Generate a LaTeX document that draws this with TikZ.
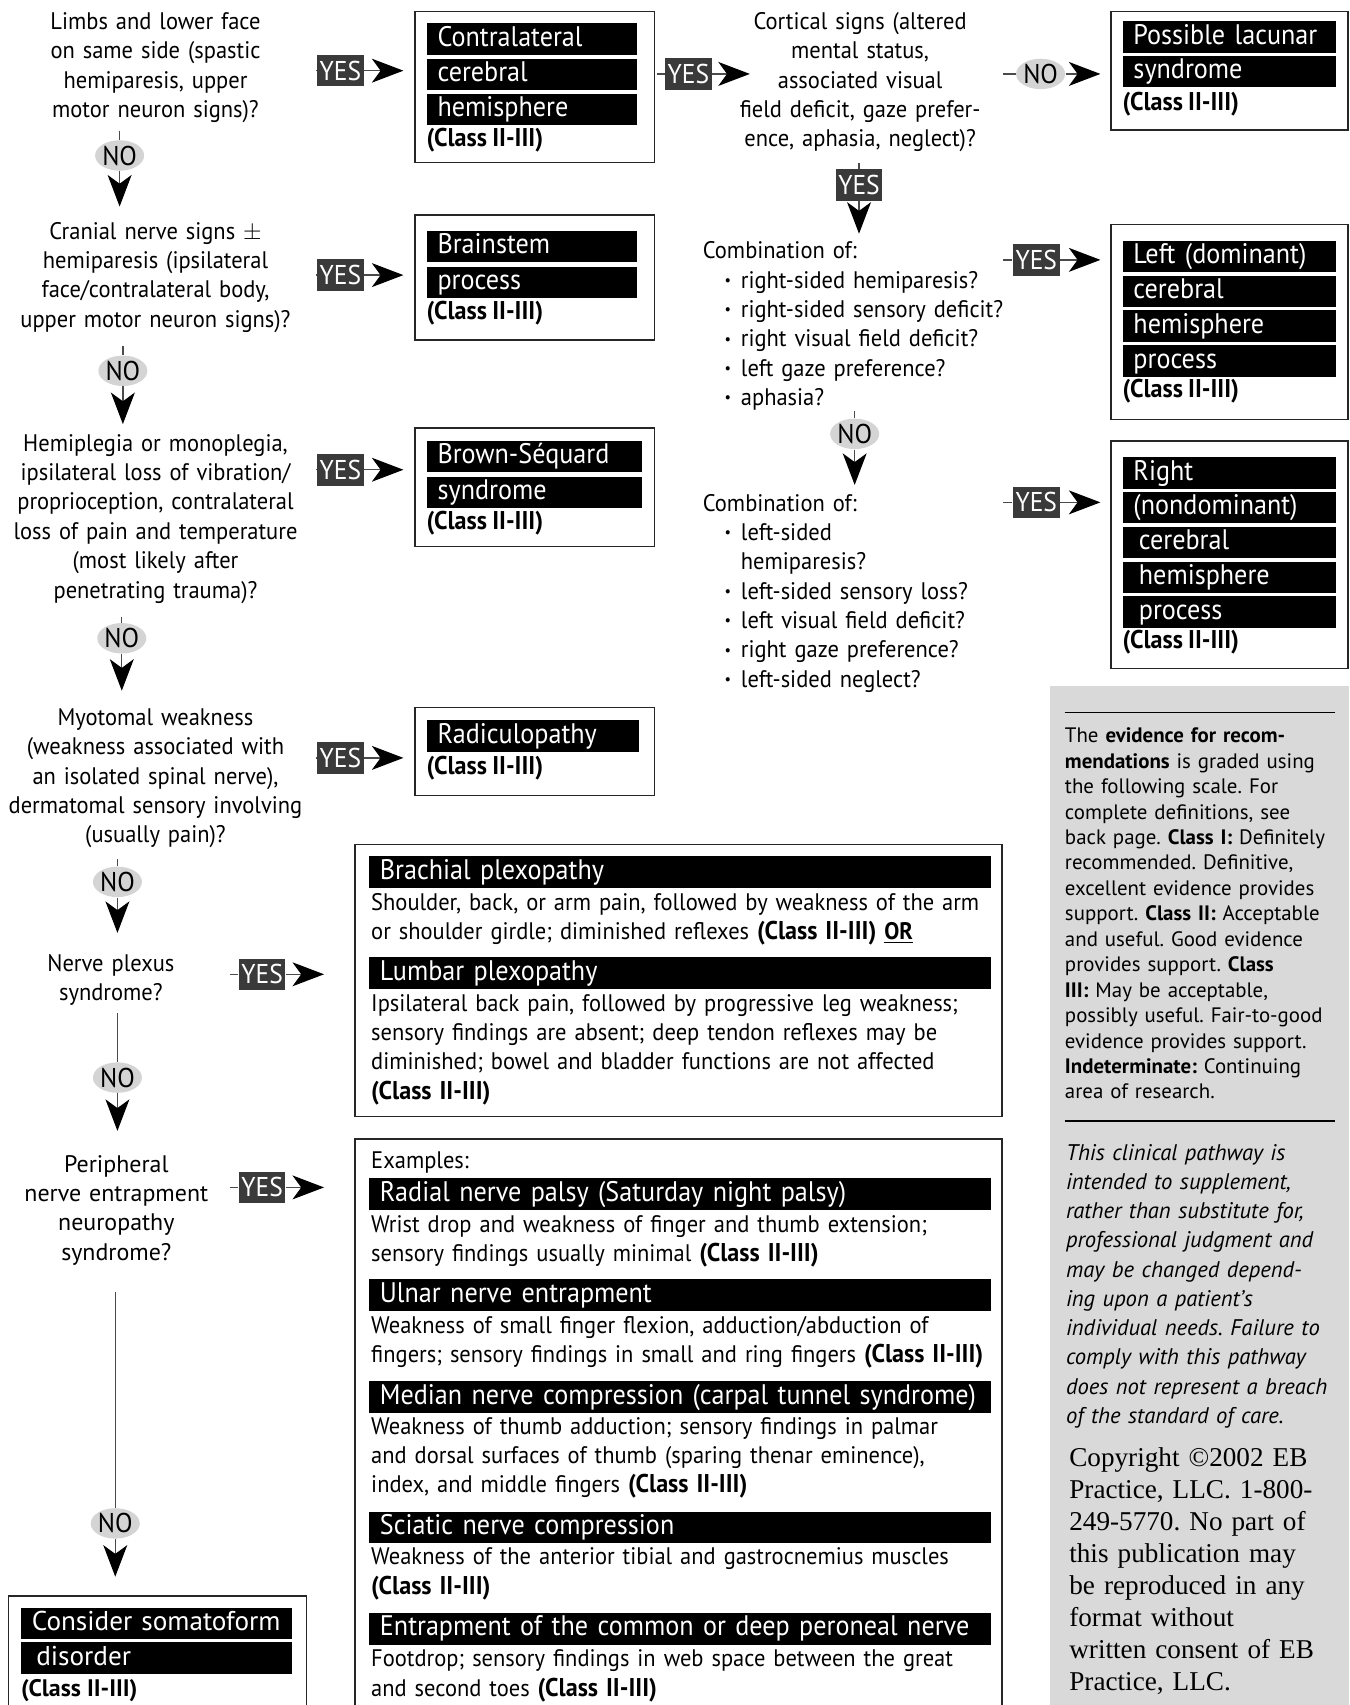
\documentclass[tikz,border=0pt]{standalone}
\usepackage{fontspec}
\setmainfont{PT Sans}
\newfontfamily\condfont[FakeStretch=0.94, WordSpace=0.85]{PT Sans}
\newfontfamily\barfont[FakeStretch=0.925, WordSpace=0.7]{PT Sans}
\newfontfamily\copyfont{Liberation Serif}
\usetikzlibrary{arrows.meta, shapes.geometric, positioning}
\frenchspacing

\definecolor{yesgray}{HTML}{3A3A3A}
\definecolor{nogray}{HTML}{D4D4D4}
\definecolor{panelgray}{HTML}{D9D9D9}
\definecolor{wiregray}{HTML}{4A4A4A}

\newcommand{\cls}{{\bfseries\fontsize{11.8}{13.5}\selectfont (Class II-III)}}
\newcommand{\itm}[1]{\hspace*{10pt}\makebox[7.5pt][l]{\raisebox{1.2pt}{\fontsize{7}{7}\selectfont\textbullet}}\mbox{#1}}

\tikzset{
	questionnode/.style={
			anchor=base,
			align=center,
			inner sep=0pt,
			font=\condfont\fontsize{11}{13.5}\selectfont
		},
	listnode/.style={
			anchor=base west,
			align=left,
			inner sep=0pt,
			text width=138pt,
			font=\condfont\fontsize{11}{13.5}\selectfont
		},
	framenode/.style={
			draw=black!85,
			line width=0.6pt,
			anchor=north west,
			inner sep=0pt
		},
	barnode/.style={
			fill=black,
			text=white,
			anchor=north west,
			inner sep=0pt,
			inner xsep=5pt,
			text width=#1,
			minimum height=14.5pt,
			text height=9.2pt,
			text depth=2.6pt,
			align=left,
			font=\barfont\fontsize{13}{14}\selectfont
		},
	barnode/.default=86.5pt,
	classnode/.style={
			anchor=base west,
			inner sep=0pt,
			font=\condfont
		},
	descnode/.style={
			anchor=base west,
			align=left,
			inner sep=0pt,
			text width=320pt,
			font=\condfont\fontsize{11}{13.5}\selectfont
		},
	yesnode/.style={
			fill=yesgray,
			text=white,
			minimum width=21.5pt,
			minimum height=14.5pt,
			inner sep=0pt,
			font=\condfont\fontsize{12.5}{12}\selectfont
		},
	nonode/.style={
			ellipse,
			fill=nogray,
			minimum width=22pt,
			minimum height=14pt,
			inner sep=0pt,
			font=\condfont\fontsize{12.5}{12}\selectfont
		},
	flowline/.style={
			draw=wiregray,
			line width=0.6pt
		},
	hflow/.style={
			flowline,
			-{Stealth[black, length=14.5pt, width=11pt, inset=4pt]}
		},
	vflow/.style={
			flowline,
			-{Stealth[black, length=14.5pt, width=11pt, inset=4pt]}
		}
}

\begin{document}
\begin{tikzpicture}[x=0.5pt, y=-0.5pt]
\useasboundingbox (0,0) rectangle (1241,1568);

\fill[panelgray] (966,631) rectangle (1241,1568);
\draw[line width=0.6pt] (979,655) -- (1228,655);
\draw[line width=0.6pt] (979,1031) -- (1228,1031);

\node[questionnode, text width=140pt] (qA) at (143,27) {Limbs and lower face\\on same side (spastic\\hemiparesis, upper\\motor neuron signs)?};
\node[questionnode, text width=140pt] (qB) at (143,220) {Cranial nerve signs $\pm$\\hemiparesis (ipsilateral\\face/contralateral body,\\upper motor neuron signs)?};
\node[questionnode, text width=140pt] (qC) at (143,415) {Hemiplegia or monoplegia,\\ipsilateral loss of vibration/\\proprioception, contralateral\\loss of pain and temperature\\(most likely after\\penetrating trauma)?};
\node[questionnode, text width=140pt] (qD) at (143,667) {Myotomal weakness\\(weakness associated with\\an isolated spinal nerve),\\dermatomal sensory involving\\(usually pain)?};
\node[questionnode, text width=103pt] (qE) at (102,893) {Nerve plexus\\syndrome?};
\node[questionnode, text width=98pt, font=\fontsize{11}{13.5}\selectfont] (qF) at (107,1078) {Peripheral\\nerve entrapment\\neuropathy\\syndrome?};
\node[questionnode, text width=131pt] (qG) at (791,27) {Cortical signs (altered\\mental status,\\associated visual\\field deficit, gaze prefer-\\ence, aphasia, neglect)?};
\node[listnode] (qH) at (646,238) {Combination of:\\
\itm{right-sided hemiparesis?}\\
\itm{right-sided sensory deficit?}\\
\itm{right visual field deficit?}\\
\itm{left gaze preference?}\\
\itm{aphasia?}};
\node[listnode] (qI) at (646,470) {Combination of:\\
\itm{left-sided}\\
\hspace*{17.5pt}hemiparesis?\\
\itm{left-sided sensory loss?}\\
\itm{left visual field deficit?}\\
\itm{right gaze preference?}\\
\itm{left-sided neglect?}};

\node[framenode, minimum width=110pt, minimum height=69.5pt] (rA) at (381,10) {};
\node[barnode] at (392,21) {Contralateral};
\node[barnode] at (392,53.5) {cerebral};
\node[barnode] at (392,86) {hemisphere};
\node[classnode] at (392,135) {\cls};

\node[framenode, minimum width=110pt, minimum height=57.5pt] (rB) at (381,197) {};
\node[barnode] at (392,212) {Brainstem};
\node[barnode] at (392,245) {process};
\node[classnode] at (392,294) {\cls};

\node[framenode, minimum width=110pt, minimum height=54.5pt] (rC) at (381,393) {};
\node[barnode=89pt] at (392,405) {Brown-Séquard};
\node[barnode=89pt] at (392,438) {syndrome};
\node[classnode] at (392,487) {\cls};

\node[framenode, minimum width=110pt, minimum height=40.5pt] (rD) at (381,650) {};
\node[barnode=87.5pt] at (392,662) {Radiculopathy};
\node[classnode] at (392,712) {\cls};

\node[framenode, minimum width=109pt, minimum height=54.5pt] (rH) at (1021,10) {};
\node[barnode=88pt] at (1032,19) {Possible lacunar};
\node[barnode=88pt] at (1032,51) {syndrome};
\node[classnode] at (1032,102) {\cls};

\node[framenode, minimum width=109pt, minimum height=89.5pt] (rI) at (1021,206) {};
\node[barnode=88pt] at (1032,221) {Left (dominant)};
\node[barnode=88pt] at (1032,253) {cerebral};
\node[barnode=88pt] at (1032,285) {hemisphere};
\node[barnode=88pt] at (1032,317) {process};
\node[classnode] at (1032,366) {\cls};

\node[framenode, minimum width=109pt, minimum height=104.5pt] (rJ) at (1021,405) {};
\node[barnode=88pt] at (1032,420) {Right};
\node[barnode=88pt] at (1032,452) {(nondominant)};
\node[barnode=88pt] at (1032,484) {\hspace{2.5pt}cerebral};
\node[barnode=88pt] at (1032,516) {\hspace{2.5pt}hemisphere};
\node[barnode=88pt] at (1032,548) {\hspace{2.5pt}process};
\node[classnode] at (1032,596) {\cls};

\node[framenode, minimum width=297.5pt, minimum height=125pt] (rE) at (326,776) {};
\node[barnode=276pt] at (339,787) {Brachial plexopathy};
\node[descnode] at (341,837) {Shoulder, back, or arm pain, followed by weakness of the arm\\or shoulder girdle; diminished reflexes \cls\ \textbf{\underline{OR}}};
\node[barnode=276pt] at (339,880) {Lumbar plexopathy};
\node[descnode] at (341,930) {Ipsilateral back pain, followed by progressive leg weakness;\\sensory findings are absent; deep tendon reflexes may be\\diminished; bowel and bladder functions are not affected\\\cls};

\node[framenode, minimum width=297.5pt, minimum height=265pt] (rF) at (326,1047) {};
\node[descnode] at (341,1075) {Examples:};
\node[barnode=276pt] at (339,1083) {Radial nerve palsy (Saturday night palsy)};
\node[descnode] at (341,1133) {Wrist drop and weakness of finger and thumb extension;\\sensory findings usually minimal \cls};
\node[barnode=276pt] at (339,1176) {Ulnar nerve entrapment};
\node[descnode] at (341,1226) {Weakness of small finger flexion, adduction/abduction of\\fingers; sensory findings in small and ring fingers \cls};
\node[barnode=276pt] at (339,1270) {Median nerve compression (carpal tunnel syndrome)};
\node[descnode] at (341,1319) {Weakness of thumb adduction; sensory findings in palmar\\and dorsal surfaces of thumb (sparing thenar eminence),\\index, and middle fingers \cls};
\node[barnode=276pt] at (339,1390) {Sciatic nerve compression};
\node[descnode] at (341,1439) {Weakness of the anterior tibial and gastrocnemius muscles\\\cls};
\node[barnode=276pt] at (339,1483) {Entrapment of the common or deep peroneal nerve};
\node[descnode] at (341,1533) {Footdrop; sensory findings in web space between the great\\and second toes \cls};

\node[framenode, minimum width=137pt, minimum height=53pt] (rG) at (7,1467) {};
\node[barnode=114.5pt, font=\fontsize{12.5}{14}\selectfont] at (19,1478) {Consider somatoform};
\node[barnode=114.5pt, font=\fontsize{12.5}{14}\selectfont] at (19,1510) {\hspace{2pt}disorder};
\node[classnode, font=\bfseries\fontsize{11}{13.5}\selectfont] at (19,1560) {(Class II-III)};

\node[yesnode] (yA) at (313,65) {YES};
\node[yesnode] (yB) at (633,68) {YES};
\node[nonode] (nG) at (957,68) {NO};
\node[yesnode] (yC) at (313,253) {YES};
\node[yesnode] (yD) at (313,432) {YES};
\node[yesnode] (yE) at (313,697) {YES};
\node[yesnode] (yF) at (241,896) {YES};
\node[yesnode] (yG) at (241,1092) {YES};
\node[yesnode] (yH) at (790,170) {YES};
\node[yesnode] (yI) at (953,239) {YES};
\node[yesnode] (yJ) at (953,462) {YES};
\node[nonode] (nA) at (110,143) {NO};
\node[nonode] (nB) at (113,341) {NO};
\node[nonode] (nC) at (112,587) {NO};
\node[nonode] (nD) at (108,811) {NO};
\node[nonode] (nE) at (108,991) {NO};
\node[nonode] (nF) at (106,1401) {NO};
\node[nonode] (nH) at (786,399) {NO};

\draw[flowline, shorten <=3.5pt] (qA.east |- yA) -- (yA.west);
\draw[hflow, shorten >=5pt] (yA.east) -- (rA.west |- yA);
\draw[flowline, shorten <=1pt] (rA.east |- yB) -- (yB.west);
\draw[hflow, shorten >=-15pt] (yB.east) -- (qG.west |- yB);
\draw[flowline] (qG.east |- nG) -- (nG.west);
\draw[hflow, shorten >=4.5pt] (nG.east) -- (rH.west |- nG);
\draw[flowline, shorten <=3.5pt] (qB.east |- yC) -- (yC.west);
\draw[hflow, shorten >=5pt] (yC.east) -- (rB.west |- yC);
\draw[flowline, shorten <=3.5pt] (qC.east |- yD) -- (yD.west);
\draw[hflow, shorten >=5pt] (yD.east) -- (rC.west |- yD);
\draw[flowline, shorten <=3.5pt] (qD.east |- yE) -- (yE.west);
\draw[hflow, shorten >=5pt] (yE.east) -- (rD.west |- yE);
\draw[flowline, shorten <=3pt] (qE.east |- yF) -- (yF.west);
\draw[hflow, shorten >=14pt] (yF.east) -- (rE.west |- yF);
\draw[flowline, shorten <=3pt] (qF.east |- yG) -- (yG.west);
\draw[hflow, shorten >=14pt] (yG.east) -- (rF.west |- yG);
\draw[flowline] (qH.east |- yI) -- (yI.west);
\draw[hflow, shorten >=4.5pt] (yI.east) -- (rI.west |- yI);
\draw[flowline] (qI.east |- yJ) -- (yJ.west);
\draw[hflow, shorten >=4.5pt] (yJ.east) -- (rJ.west |- yJ);

\draw[flowline, shorten <=3.5pt] (qA.south -| nA) -- (nA.north);
\draw[vflow, shorten >=7pt] (nA.south) -- (nA |- qB.north);
\draw[flowline, shorten <=6pt] (qB.south -| nB) -- (nB.north);
\draw[vflow, shorten >=4.5pt] (nB.south) -- (nB |- qC.north);
\draw[flowline, shorten <=6pt] (qC.south -| nC) -- (nC.north);
\draw[vflow, shorten >=8pt] (nC.south) -- (nC |- qD.north);
\draw[flowline, shorten <=5pt] (qD.south -| nD) -- (nD.north);
\draw[vflow, shorten >=9.5pt] (nD.south) -- (nD |- qE.north);
\draw[flowline, shorten <=3.5pt] (qE.south -| nE) -- (nE.north);
\draw[vflow, shorten >=11pt] (nE.south) -- (nE |- qF.north);
\draw[flowline, shorten <=12pt] (qF.south -| nF) -- (nF.north);
\draw[vflow, shorten >=8.5pt] (nF.south) -- (nF |- rG.north);
\draw[flowline, shorten <=5pt] (qG.south -| yH) -- (yH.north);
\draw[vflow, shorten >=3.5pt] (yH.south) -- (yH |- qH.north);
\draw[flowline] (qH.south -| nH) -- (nH.north);
\draw[vflow, shorten >=4pt] (nH.south) -- (nH |- qI.north);

\node[anchor=base west, align=left, inner sep=0pt, text width=140pt, font=\fontsize{9.6}{11.7}\selectfont] (evidence) at (979,683) {The \textbf{evidence for recom-}\\\textbf{mendations} is graded using\\the following scale. For\\complete definitions, see\\back page. \textbf{Class I:} Definitely\\recommended. Definitive,\\excellent evidence provides\\support. \textbf{Class II:} Acceptable\\and useful. Good evidence\\provides support. \textbf{Class}\\\textbf{III:} May be acceptable,\\possibly useful. Fair-to-good\\evidence provides support.\\\textbf{Indeterminate:} Continuing\\area of research.};
\node[anchor=base west, align=left, inner sep=0pt, text width=140pt, font=\itshape\fontsize{10.4}{13.45}\selectfont] (disclaimer) at (980,1067) {This clinical pathway is\\intended to supplement,\\rather than substitute for,\\professional judgment and\\may be changed depend-\\ing upon a patient’s\\individual needs. Failure to\\comply with this pathway\\does not represent a breach\\of the standard of care.};
\node[anchor=base west, align=left, inner sep=0pt, text width=140pt, font=\copyfont\fontsize{12.5}{14.7}\selectfont] (copyright) at (983,1349) {Copyright ©2002 EB\\Practice, LLC. 1-800-\\249-5770. No part of\\this publication may\\be reproduced in any\\format without\\written consent of EB\\Practice, LLC.};

\end{tikzpicture}
\end{document}
